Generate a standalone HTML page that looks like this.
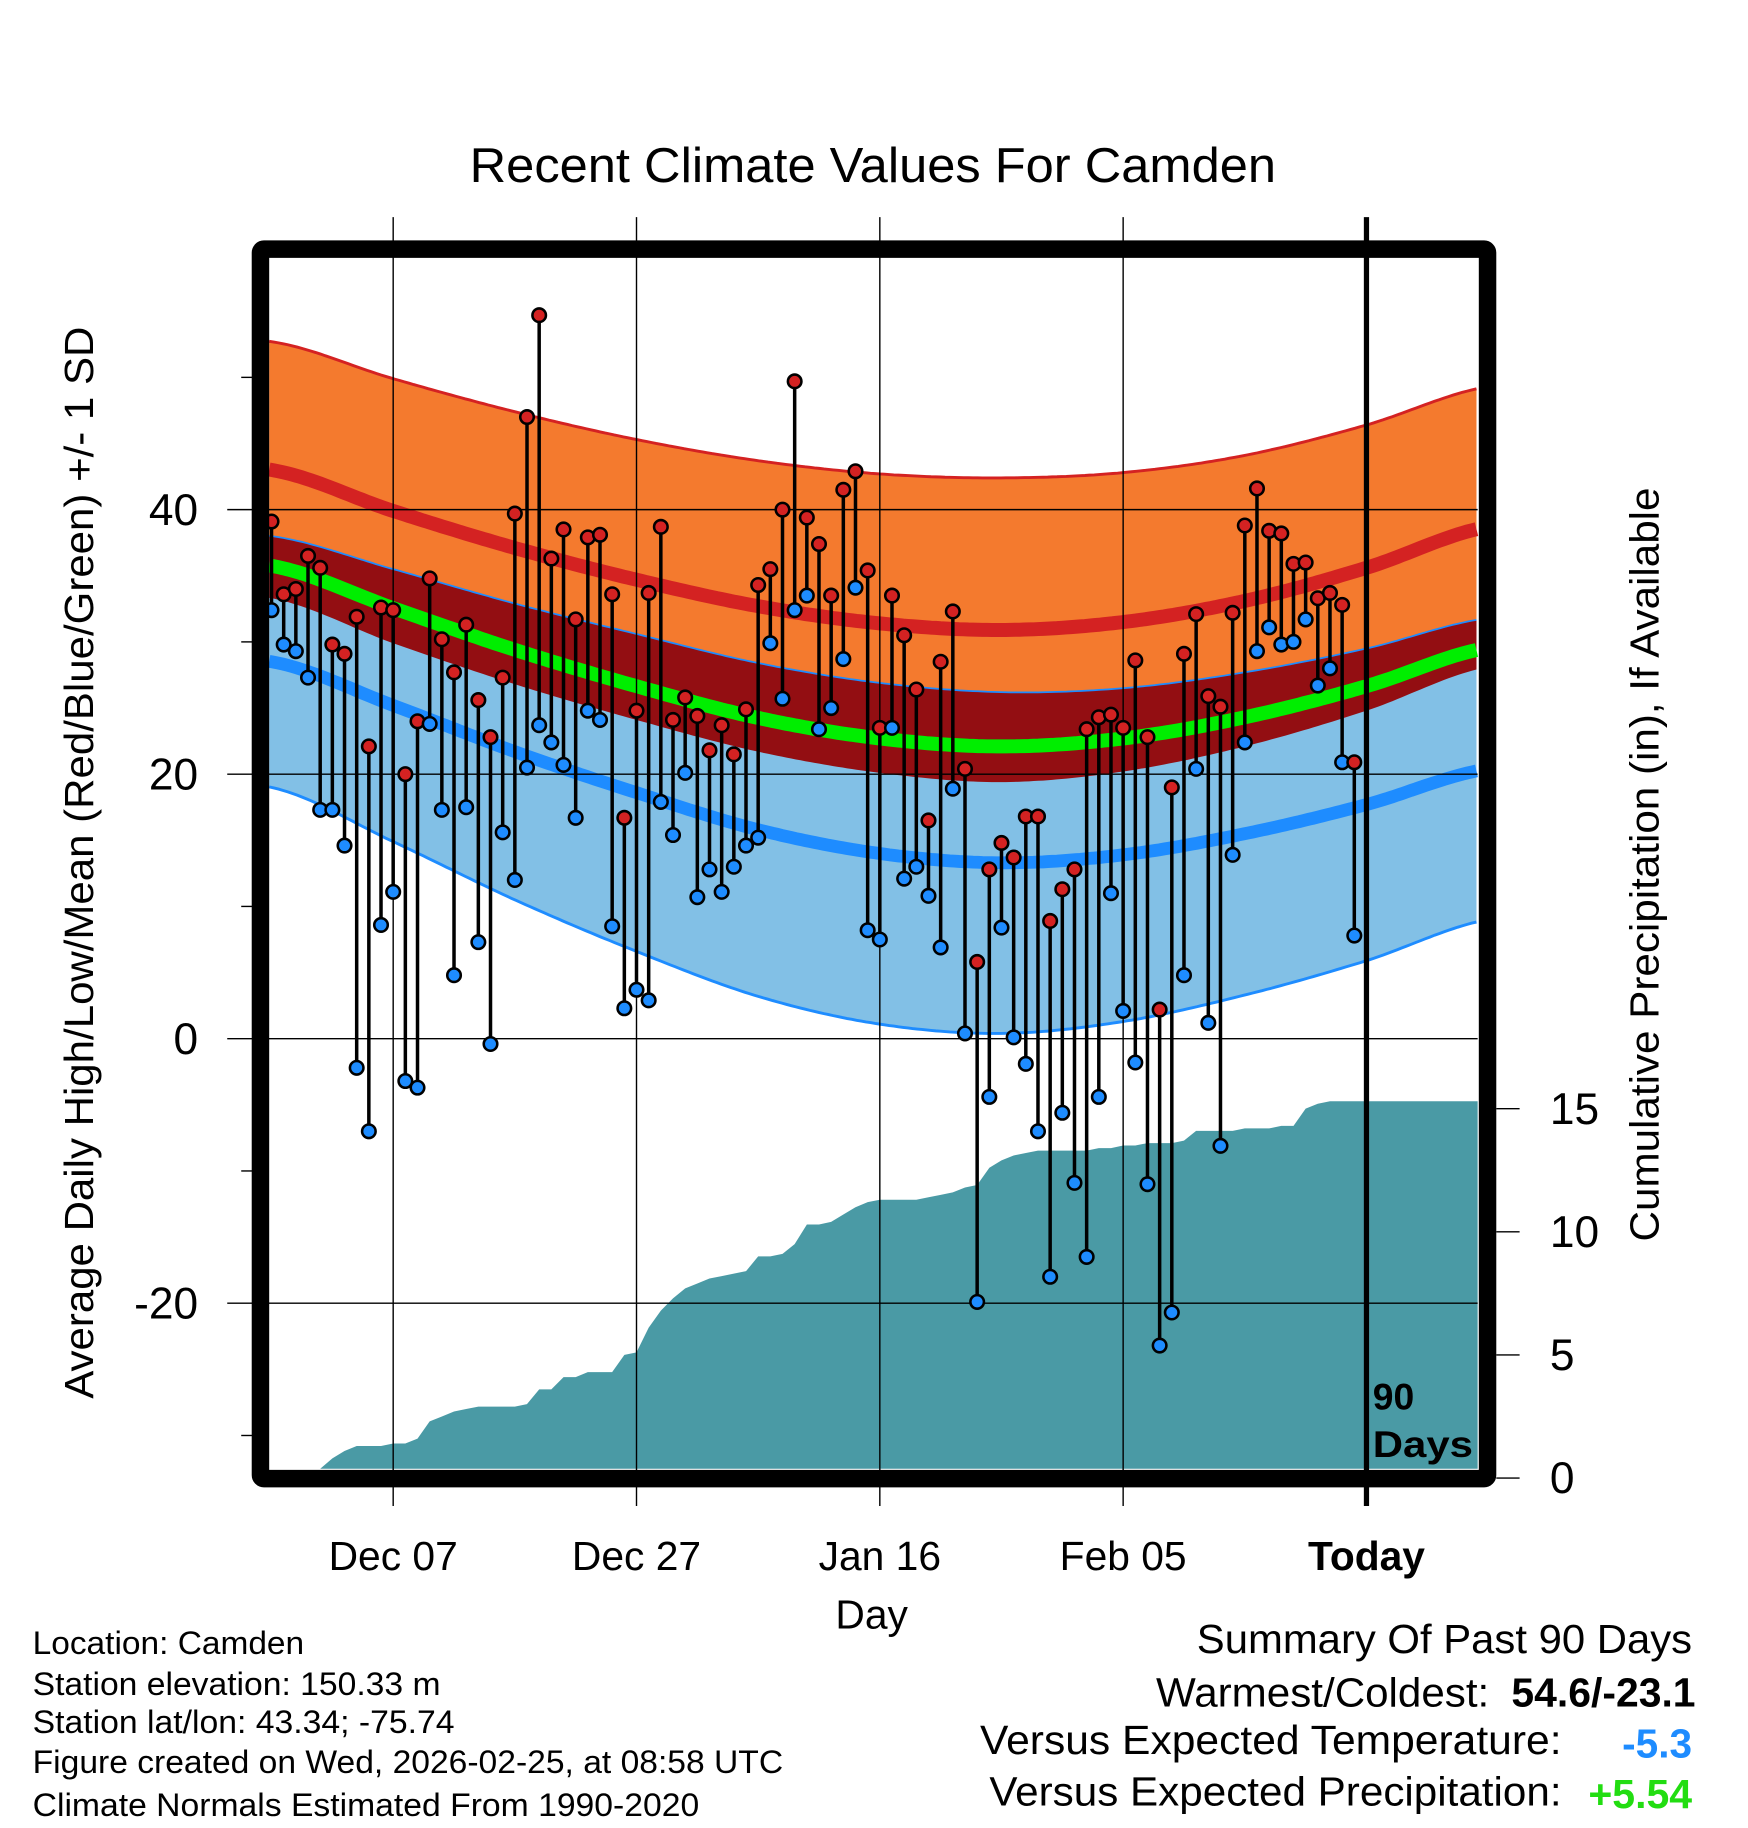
<!DOCTYPE html>
<html><head><meta charset="utf-8"><style>html,body{margin:0;padding:0;background:#fff}svg{display:block}text{font-family:"Liberation Sans",sans-serif}</style></head>
<body>
<svg id="chart" width="1748" height="1828" viewBox="0 0 1500 1568" xmlns="http://www.w3.org/2000/svg">
<rect width="1500" height="1568" fill="#fff"/>
<g id="bands"></g><g id="precip"></g><g id="grid"></g><g id="stems"></g>
<g id="frame"></g><g id="labels"></g>
</svg>
<script>
const highs=[39.1,33.6,34.0,36.5,35.6,29.8,29.1,31.9,22.1,32.6,32.4,20.0,24.0,34.8,30.2,27.7,31.3,25.6,22.8,27.3,39.7,47.0,54.7,36.3,38.5,31.7,37.9,38.1,33.6,16.7,24.8,33.7,38.7,24.1,25.8,24.4,21.8,23.7,21.5,24.9,34.3,35.5,40.0,49.7,39.4,37.4,33.5,41.5,42.9,35.4,23.5,33.5,30.5,26.4,16.5,28.5,32.3,20.4,5.8,12.8,14.8,13.7,16.8,16.8,8.9,11.3,12.8,23.4,24.3,24.5,23.5,28.6,22.8,2.2,19.0,29.1,32.1,25.9,25.1,32.2,38.8,41.6,38.4,38.2,35.9,36.0,33.3,33.7,32.8,20.9];
const lows=[32.4,29.8,29.3,27.3,17.3,17.3,14.6,-2.2,-7.0,8.6,11.1,-3.2,-3.7,23.8,17.3,4.8,17.5,7.3,-0.4,15.6,12.0,20.5,23.7,22.4,20.7,16.7,24.8,24.1,8.5,2.3,3.7,2.9,17.9,15.4,20.1,10.7,12.8,11.1,13.0,14.6,15.2,29.9,25.7,32.4,33.5,23.4,25.0,28.7,34.1,8.2,7.5,23.5,12.1,13.0,10.8,6.9,18.9,0.4,-19.9,-4.4,8.4,0.1,-1.9,-7.0,-18.0,-5.6,-10.9,-16.5,-4.4,11.0,2.1,-1.8,-11.0,-23.2,-20.7,4.8,20.4,1.2,-8.1,13.9,22.4,29.3,31.1,29.8,30.0,31.7,26.7,28.0,20.9,7.8];
const precip=[0,0,0.05,0.1,0.3,0.8,1.1,1.3,1.3,1.3,1.4,1.4,1.6,2.3,2.5,2.7,2.8,2.9,2.9,2.9,2.9,3.0,3.6,3.6,4.1,4.1,4.3,4.3,4.3,5.0,5.1,6.1,6.8,7.3,7.7,7.9,8.1,8.2,8.3,8.4,9.0,9.0,9.1,9.5,10.3,10.3,10.4,10.7,11.0,11.2,11.3,11.3,11.3,11.3,11.4,11.5,11.6,11.8,11.9,12.6,12.9,13.1,13.2,13.3,13.3,13.3,13.3,13.3,13.4,13.4,13.5,13.5,13.6,13.6,13.6,13.7,14.1,14.1,14.1,14.1,14.2,14.2,14.2,14.3,14.3,15.0,15.2,15.3,15.3,15.3];
const normDays=[0,10,20,30,40,50,60,70,80,90,100];
const normHigh=[43.0,39.9,37.1,34.7,32.7,31.4,30.9,31.5,33.1,35.6,38.7];
const sdHigh=[9.7,10,10.3,10.6,11,11.3,11.5,11.3,11,10.8,10.6];
const normLow=[28.5,25.2,21.7,18.6,15.8,14.0,13.3,13.9,15.5,17.7,20.4];
const sdLow=[9.5,10.3,11.2,12,12.6,12.9,12.9,12.6,12.2,11.8,11.4];
const xLabels=["Dec 07","Dec 27","Jan 16","Feb 05","Today"];
const xLabelDays=[10,30,50,70,90];
const yTicks=[40,20,0,-20];
const yMinor=[50,30,10,-10,-30];
const pTicks=[0,5,10,15];

const NS="http://www.w3.org/2000/svg";
const X0=233,DX=10.44,PL=231,PR=1268,PT=221,PB=1260;
const xs=d=>X0+d*DX;
const ys=v=>891-v*11.35;
const yp=v=>1268-v*21.13;
function mk(parent,tag,attrs,txt){const e=document.createElementNS(NS,tag);for(const k in attrs)e.setAttribute(k,attrs[k]);if(txt!==undefined)e.textContent=txt;document.getElementById(parent).appendChild(e);return e;}
function curve(fn){const pts=[];for(let px=PL;px<=PR;px+=4){const d=(px-X0)/DX;let k=Math.min(Math.max(Math.floor(d/10),0),normDays.length-2);const t=(d-normDays[k])/10;
 const p0=fn(Math.max(k-1,0)),p1=fn(k),p2=fn(k+1),p3=fn(Math.min(k+2,normDays.length-1));
 const v=0.5*((2*p1)+(-p0+p2)*t+(2*p0-5*p1+4*p2-p3)*t*t+(-p0+3*p1-3*p2+p3)*t*t*t);pts.push([px,ys(v)]);}return pts;}
const hiU=curve(k=>normHigh[k]+sdHigh[k]),hiM=curve(k=>normHigh[k]),hiL=curve(k=>normHigh[k]-sdHigh[k]);
const loU=curve(k=>normLow[k]+sdLow[k]),loM=curve(k=>normLow[k]),loL=curve(k=>normLow[k]-sdLow[k]);
const mean=curve(k=>(normHigh[k]+normLow[k])/2);
const ln=p=>p.map((q,i)=>(i?'L':'M')+q[0].toFixed(1)+' '+q[1].toFixed(1)).join(' ');
const band=(a,b)=>ln(a)+' '+b.slice().reverse().map(q=>'L'+q[0].toFixed(1)+' '+q[1].toFixed(1)).join(' ')+'Z';
let e;
e=mk('bands','path',{d:band(hiU,hiL),fill:'#f47a2e'});


e=mk('bands','path',{d:band(loU,loL),fill:'#82c0e6'});


e=mk('bands','path',{d:band(loU,hiL),fill:'#930e12'});


e=mk('bands','path',{d:ln(hiU),fill:'none',stroke:'#d42222','stroke-width':2.5});


e=mk('bands','path',{d:ln(loU),fill:'none',stroke:'#1e8cff','stroke-width':1.5});


e=mk('bands','path',{d:ln(loL),fill:'none',stroke:'#1e8cff','stroke-width':2.5});


e=mk('bands','path',{d:ln(hiM),fill:'none',stroke:'#d42222','stroke-width':12});


e=mk('bands','path',{d:ln(loM),fill:'none',stroke:'#1e8cff','stroke-width':11});


e=mk('bands','path',{d:ln(mean),fill:'none',stroke:'#00ee00','stroke-width':12});


let pd='M'+PL+' '+PB;precip.forEach((v,i)=>{pd+=' L'+xs(i).toFixed(1)+' '+Math.min(yp(v),PB).toFixed(1);});
pd+=' L'+PR+' '+Math.min(yp(precip[precip.length-1]),PB).toFixed(1)+' L'+PR+' '+PB+'Z';
e=mk('precip','path',{d:pd,fill:'#4a9aa5'});


yTicks.forEach(v=>{e=mk('grid','line',{x1:195,x2:PR,y1:ys(v),y2:ys(v),stroke:'#000','stroke-width':1.2});


e=mk('labels','text',{x:170,y:ys(v)+13,'font-size':38,'text-anchor':'end'},String(v));

});
yMinor.forEach(v=>{e=mk('grid','line',{x1:207,x2:218,y1:ys(v),y2:ys(v),stroke:'#000','stroke-width':1.2});

});
xLabelDays.forEach((d,i)=>{const x=xs(d);const today=i===xLabelDays.length-1;
e=mk('grid','line',{x1:x,x2:x,y1:186,y2:1292,stroke:'#000','stroke-width':today?4.5:1.2});


e=mk('labels','text',{x:x,y:1347,'font-size':35,'text-anchor':'middle','font-weight':today?'bold':'normal'},xLabels[i]);

});
pTicks.forEach(v=>{e=mk('grid','line',{x1:1284,x2:1304,y1:yp(v),y2:yp(v),stroke:'#000','stroke-width':1.2});


e=mk('labels','text',{x:1330,y:yp(v)+13,'font-size':38},String(v));

});
highs.forEach((h,i)=>{const x=xs(i);
e=mk('stems','line',{x1:x,x2:x,y1:ys(h),y2:ys(lows[i]),stroke:'#000','stroke-width':3});

});
highs.forEach((h,i)=>{const x=xs(i);
e=mk('stems','circle',{cx:x,cy:ys(h),r:5.8,fill:'#d42222',stroke:'#000','stroke-width':2.2});


e=mk('stems','circle',{cx:x,cy:ys(lows[i]),r:5.8,fill:'#1e8cff',stroke:'#000','stroke-width':2.2});

});
e=mk('frame','rect',{x:223.5,y:213.5,width:1053,height:1055,fill:'none',stroke:'#000','stroke-width':15,rx:3});


</script>
<svg style="position:absolute;left:0;top:0" width="1748" height="1828" viewBox="0 0 1500 1568" xmlns="http://www.w3.org/2000/svg">
<text x="403" y="156" font-size="42" textLength="692" lengthAdjust="spacingAndGlyphs">Recent Climate Values For Camden</text>
<text x="1178" y="1209" font-size="32" font-weight="bold">90</text>
<text x="1178" y="1250" font-size="32" font-weight="bold" textLength="86" lengthAdjust="spacingAndGlyphs">Days</text>
<text x="748" y="1397" font-size="35" text-anchor="middle">Day</text>
<text transform="translate(80,1200) rotate(-90)" font-size="35" textLength="920" lengthAdjust="spacingAndGlyphs">Average Daily High/Low/Mean (Red/Blue/Green) +/- 1 SD</text>
<text transform="translate(1423,1065) rotate(-90)" font-size="35" textLength="647" lengthAdjust="spacingAndGlyphs">Cumulative Precipitation (in), If Available</text>
<g font-size="28">
<text x="28" y="1419" textLength="233" lengthAdjust="spacingAndGlyphs">Location: Camden</text>
<text x="28" y="1454" textLength="350" lengthAdjust="spacingAndGlyphs">Station elevation: 150.33 m</text>
<text x="28" y="1487" textLength="362" lengthAdjust="spacingAndGlyphs">Station lat/lon: 43.34; -75.74</text>
<text x="28" y="1521" textLength="644" lengthAdjust="spacingAndGlyphs">Figure created on Wed, 2026-02-25, at 08:58 UTC</text>
<text x="28" y="1558" textLength="572" lengthAdjust="spacingAndGlyphs">Climate Normals Estimated From 1990-2020</text>
</g>
<g font-size="35">
<text x="1027" y="1418" textLength="425" lengthAdjust="spacingAndGlyphs">Summary Of Past 90 Days</text>
<text x="992" y="1464" textLength="286" lengthAdjust="spacingAndGlyphs">Warmest/Coldest:</text>
<text x="1297" y="1464" font-weight="bold" textLength="158" lengthAdjust="spacingAndGlyphs">54.6/-23.1</text>
<text x="841" y="1505" textLength="499" lengthAdjust="spacingAndGlyphs">Versus Expected Temperature:</text>
<text x="1392" y="1508" font-weight="bold" fill="#1e8cff" textLength="60" lengthAdjust="spacingAndGlyphs">-5.3</text>
<text x="849" y="1549" textLength="491" lengthAdjust="spacingAndGlyphs">Versus Expected Precipitation:</text>
<text x="1363" y="1551" font-weight="bold" fill="#22dd11" textLength="89" lengthAdjust="spacingAndGlyphs">+5.54</text>
</g>
</svg>
</body></html>
